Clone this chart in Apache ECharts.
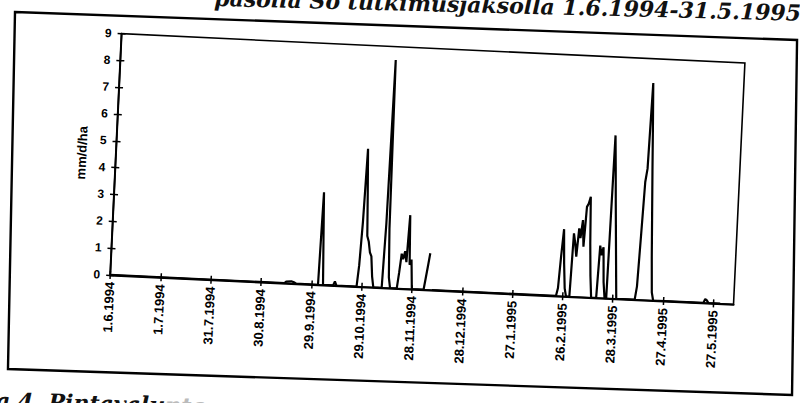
<!DOCTYPE html>
<html>
<head>
<meta charset="utf-8">
<script src="https://cdn.jsdelivr.net/npm/echarts@6/dist/echarts.min.js"></script>
<style>
  html, body { margin: 0; padding: 0; background: #fff; overflow: hidden; width: 800px; height: 403px; }
  /* the chart page sits slightly tilted on the sheet */
  #chart { position: absolute; left: -30px; top: -30px; width: 860px; height: 463px;
           transform: rotate(2.7deg); transform-origin: 50% 50%; }
</style>
</head>
<body>
<div id="chart"></div>
<script>
// Tick labels on the date axis, one every 30 days from 1.6.1994
const tickLabels = ['1.6.1994', '1.7.1994', '31.7.1994', '30.8.1994', '29.9.1994',
  '29.10.1994', '28.11.1994', '28.12.1994', '27.1.1995', '26.2.1995',
  '28.3.1995', '27.4.1995', '27.5.1995'];
const tickStep = 30;

// Day number counted from 1.6.1994 and surface runoff on that day (mm/d/ha)
const dayNumber = [
  0, 104, 105, 108, 110, 111,
  124, 125, 126, 127,
  133, 134, 135,
  147, 148, 149, 150, 151, 152, 153, 154, 155, 156, 157,
  162, 163, 164, 165, 166, 167,
  171, 172, 173, 174, 175, 176, 177, 178, 179, 180,
  187, 188, 189, 190, 191, 192,
  266, 267, 268, 269, 270, 271, 272,
  274, 275, 276, 277, 278, 279, 280, 281, 282, 283, 284, 285, 286, 287,
  290, 291, 292, 293, 294, 295,
  296, 297, 298, 299, 300, 301, 302,
  313, 314, 315, 316, 317, 318, 319, 320, 321, 322, 323, 324,
  354, 355, 356, 357, 364
];
const runoff = [
  0, 0, 0.06, 0.08, 0.04, 0,
  0, 3.45, 1.7, 0,
  0, 0.15, 0,
  0, 0.8, 2.4, 5.15, 3.6, 1.9, 1.7, 1.3, 1.15, 0.4, 0,
  0, 2.4, 8.5, 2.2, 0.4, 0,
  0, 0.6, 1.3, 1.1, 1.4, 1.0, 2.75, 0.9, 1.1, 0,
  0, 0.45, 0.9, 1.37, null, 0,
  0, 0.3, 1.5, 2.5, 1.2, 0.3, 0,
  0, 2.36, 2.0, 1.5, 2.56, 2.2, 2.87, 1.88, 3.37, 3.5, 3.75, 2.0, 0.8, 0,
  0, 1.95, 1.6, 1.9, 0.6, 0,
  0, 6.08, 4.9, 3.6, 2.4, 1.2, 0,
  0, 0.5, 2.4, 4.4, 4.9, 8.1, 6.5, 4.8, 3.2, 1.6, 0.3, 0,
  0, 0.15, 0.1, 0, 0
];
const yMax = 9;
const xMax = 372;

const tickDays = tickLabels.map((_, i) => i * tickStep);
const seriesData = dayNumber.map((d, i) => [d, runoff[i]]);

const axisFont = { fontFamily: 'Liberation Sans', fontWeight: 'bold', color: '#000' };

const chart = echarts.init(document.getElementById('chart'), null, { renderer: 'svg' });
chart.setOption({
  animation: false,
  backgroundColor: '#fff',
  grid: { left: 144, top: 77, right: 92, bottom: 144.5, show: true,
          borderColor: '#000', borderWidth: 1.6, backgroundColor: 'transparent' },
  xAxis: [
    {
      type: 'value', min: 0, max: xMax, interval: tickStep, position: 'bottom',
      axisLine: { show: true, onZero: false, lineStyle: { color: '#000', width: 2 } },
      axisTick: { show: true, length: 4, customValues: tickDays, lineStyle: { color: '#000', width: 1.5 } },
      axisLabel: Object.assign({ rotate: 90, margin: 7, fontSize: 13, customValues: tickDays,
        formatter: v => tickLabels[Math.round(v / tickStep)] }, axisFont),
      splitLine: { show: false }
    },
    {
      type: 'value', min: 0, max: xMax, interval: tickStep, position: 'bottom',
      axisLine: { show: false, onZero: false },
      axisTick: { show: true, inside: true, length: 4, customValues: tickDays, lineStyle: { color: '#000', width: 1.5 } },
      axisLabel: { show: false },
      splitLine: { show: false }
    }
  ],
  yAxis: [
    {
      type: 'value', min: 0, max: yMax, interval: 1, position: 'left',
      name: 'mm/d/ha', nameLocation: 'middle', nameRotate: 90, nameGap: 23,
      nameTextStyle: Object.assign({ fontSize: 13 }, axisFont),
      axisLine: { show: true, onZero: false, lineStyle: { color: '#000', width: 2 } },
      axisTick: { show: true, length: 4, lineStyle: { color: '#000', width: 1.5 } },
      axisLabel: Object.assign({ margin: 10, fontSize: 12 }, axisFont),
      splitLine: { show: false }
    },
    {
      type: 'value', min: 0, max: yMax, interval: 1, position: 'left',
      axisLine: { show: false, onZero: false },
      axisTick: { show: true, inside: true, length: 4, lineStyle: { color: '#000', width: 1.5 } },
      axisLabel: { show: false },
      splitLine: { show: false }
    }
  ],
  series: [{
    type: 'line',
    data: seriesData,
    showSymbol: false,
    symbol: 'none',
    connectNulls: false,
    lineStyle: { color: '#000', width: 2.2 },
    z: 5
  }],
  graphic: [
    // outer border of the chart sheet
    { type: 'polygon', silent: true,
      shape: { points: [[36.5, 60.3], [819, 51.5], [830.7, 406.3], [46.3, 417.3]] },
      style: { fill: 'none', stroke: '#000', lineWidth: 2.4 } },
    // heading line above the sheet
    { type: 'text', x: 822, y: 35, rotation: 0.022, silent: true,
      style: { text: 'pasolla So tutkimusjaksolla 1.6.1994-31.5.1995',
               font: 'italic bold 22px "DejaVu Serif"', fill: '#111',
               align: 'right', verticalAlign: 'bottom' } },
    // figure caption below the sheet
    { type: 'text', x: 36, y: 460, rotation: 0.02, silent: true,
      style: { text: '{a|a 4. Pintavalu}{b|nta}',
               rich: {
                 a: { font: 'italic bold 22px "DejaVu Serif"', fill: '#111' },
                 b: { font: 'italic bold 22px "DejaVu Serif"', fill: '#bbb' }
               },
               align: 'left', verticalAlign: 'bottom' } }
  ]
});
</script>
</body>
</html>
